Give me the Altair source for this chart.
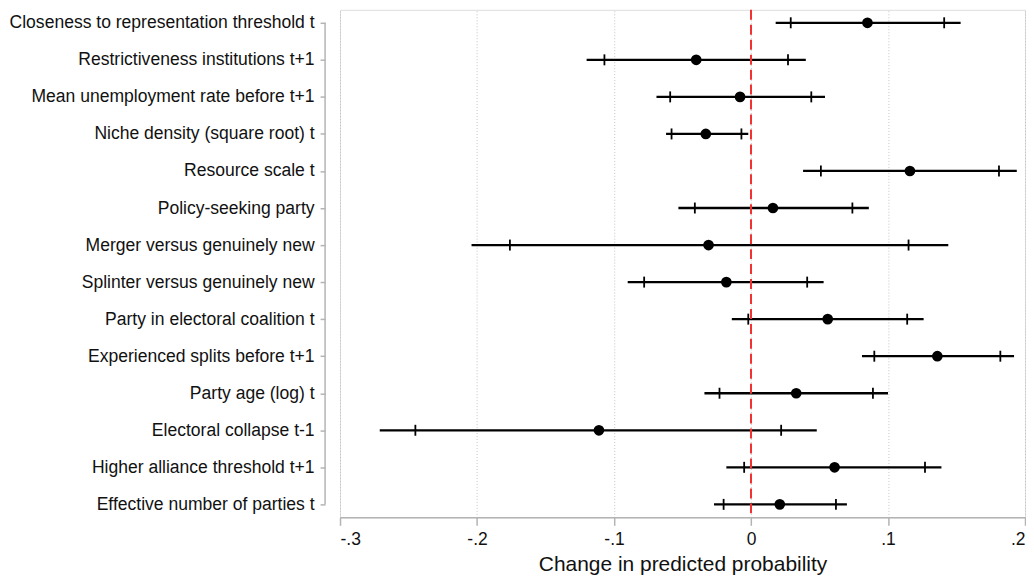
import altair as alt
import pandas as pd

variables = [
    "Closeness to representation threshold t",
    "Restrictiveness institutions t+1",
    "Mean unemployment rate before t+1",
    "Niche density (square root) t",
    "Resource scale t",
    "Policy-seeking party",
    "Merger versus genuinely new",
    "Splinter versus genuinely new",
    "Party in electoral coalition t",
    "Experienced splits before t+1",
    "Party age (log) t",
    "Electoral collapse t-1",
    "Higher alliance threshold t+1",
    "Effective number of parties t",
]
estimate = [0.085, -0.040, -0.008, -0.033, 0.116, 0.016, -0.031, -0.018, 0.056, 0.136, 0.033, -0.111, 0.061, 0.021]
lo90 = [0.029, -0.107, -0.059, -0.058, 0.051, -0.041, -0.176, -0.078, -0.002, 0.090, -0.023, -0.245, -0.005, -0.020]
hi90 = [0.141, 0.027, 0.044, -0.007, 0.181, 0.074, 0.115, 0.041, 0.114, 0.182, 0.089, 0.022, 0.127, 0.062]
lo95 = [0.018, -0.120, -0.069, -0.062, 0.038, -0.053, -0.204, -0.090, -0.014, 0.081, -0.034, -0.271, -0.018, -0.027]
hi95 = [0.153, 0.040, 0.054, -0.002, 0.194, 0.086, 0.144, 0.053, 0.126, 0.192, 0.100, 0.048, 0.139, 0.070]
x_ticks = [-0.3, -0.2, -0.1, 0.0, 0.1, 0.2]

df = pd.DataFrame({
    "var": variables, "est": estimate,
    "lo90": lo90, "hi90": hi90, "lo95": lo95, "hi95": hi95,
})
ends = pd.DataFrame({"first": [variables[0]], "last": [variables[-1]]})

FONT = "Liberation Sans"
AXIS_GRAY = "#b4b4b4"

xscale = alt.Scale(domain=[-0.3, 0.2], nice=False, zero=False)
yscale = alt.Scale(type="point", padding=0.35, domain=variables)

xaxis = alt.Axis(
    values=x_ticks,
    labelExpr="datum.value == 0 ? '0' : replace(replace(replace(format(datum.value, '.1f'), '0.', '.'), '\u2212', '-'), '\u2212', '-')",
    title="Change in predicted probability",
    titleFontSize=21, titleFont=FONT, titleFontWeight="normal", titleColor="#111111",
    titlePadding=6,
    labelFontSize=17.5, labelFont=FONT, labelColor="#111111", labelPadding=5,
    tickSize=8, tickColor=AXIS_GRAY, tickWidth=1.5,
    domainColor=AXIS_GRAY, domainWidth=1.5,
    grid=True, gridDash=[1, 2], gridColor="#c4c4c4", gridWidth=1,
)
yaxis = alt.Axis(
    title=None, offset=15, domain=False, labelLimit=500,
    labelFontSize=17.6, labelFont=FONT, labelColor="#111111", labelPadding=6,
    tickSize=5, tickColor=AXIS_GRAY, tickWidth=1.5, grid=False,
)

base = alt.Chart(df)

ci95 = base.mark_rule(color="black", strokeWidth=2.3).encode(
    x=alt.X("lo95:Q", scale=xscale, axis=xaxis),
    x2="hi95:Q",
    y=alt.Y("var:N", scale=yscale, axis=yaxis),
)
tick_lo = base.mark_tick(color="black", thickness=1.8, size=11, opacity=1).encode(
    x=alt.X("lo90:Q"), y=alt.Y("var:N")
)
tick_hi = base.mark_tick(color="black", thickness=1.8, size=11, opacity=1).encode(
    x=alt.X("hi90:Q"), y=alt.Y("var:N")
)
zero = alt.Chart(pd.DataFrame({"z": [0.0]})).mark_rule(
    color="#f03232", strokeDash=[10, 5], strokeWidth=2
).encode(x="z:Q")
points = base.mark_circle(color="black", size=115, opacity=1).encode(
    x=alt.X("est:Q"), y=alt.Y("var:N")
)
yline = alt.Chart(ends).mark_rule(color=AXIS_GRAY, strokeWidth=1.5).encode(
    x=alt.value(-15),
    y=alt.Y("first:N"),
    y2="last:N",
)

chart = alt.layer(ci95, tick_lo, tick_hi, zero, points, yline).properties(
    width=687, height=509,
    padding={"left": 0, "top": 0, "right": 0, "bottom": 0},
).configure_view(stroke=None).configure(font=FONT, background="white")

chart.save("out.html", embed_options={"renderer": "svg", "actions": False})
